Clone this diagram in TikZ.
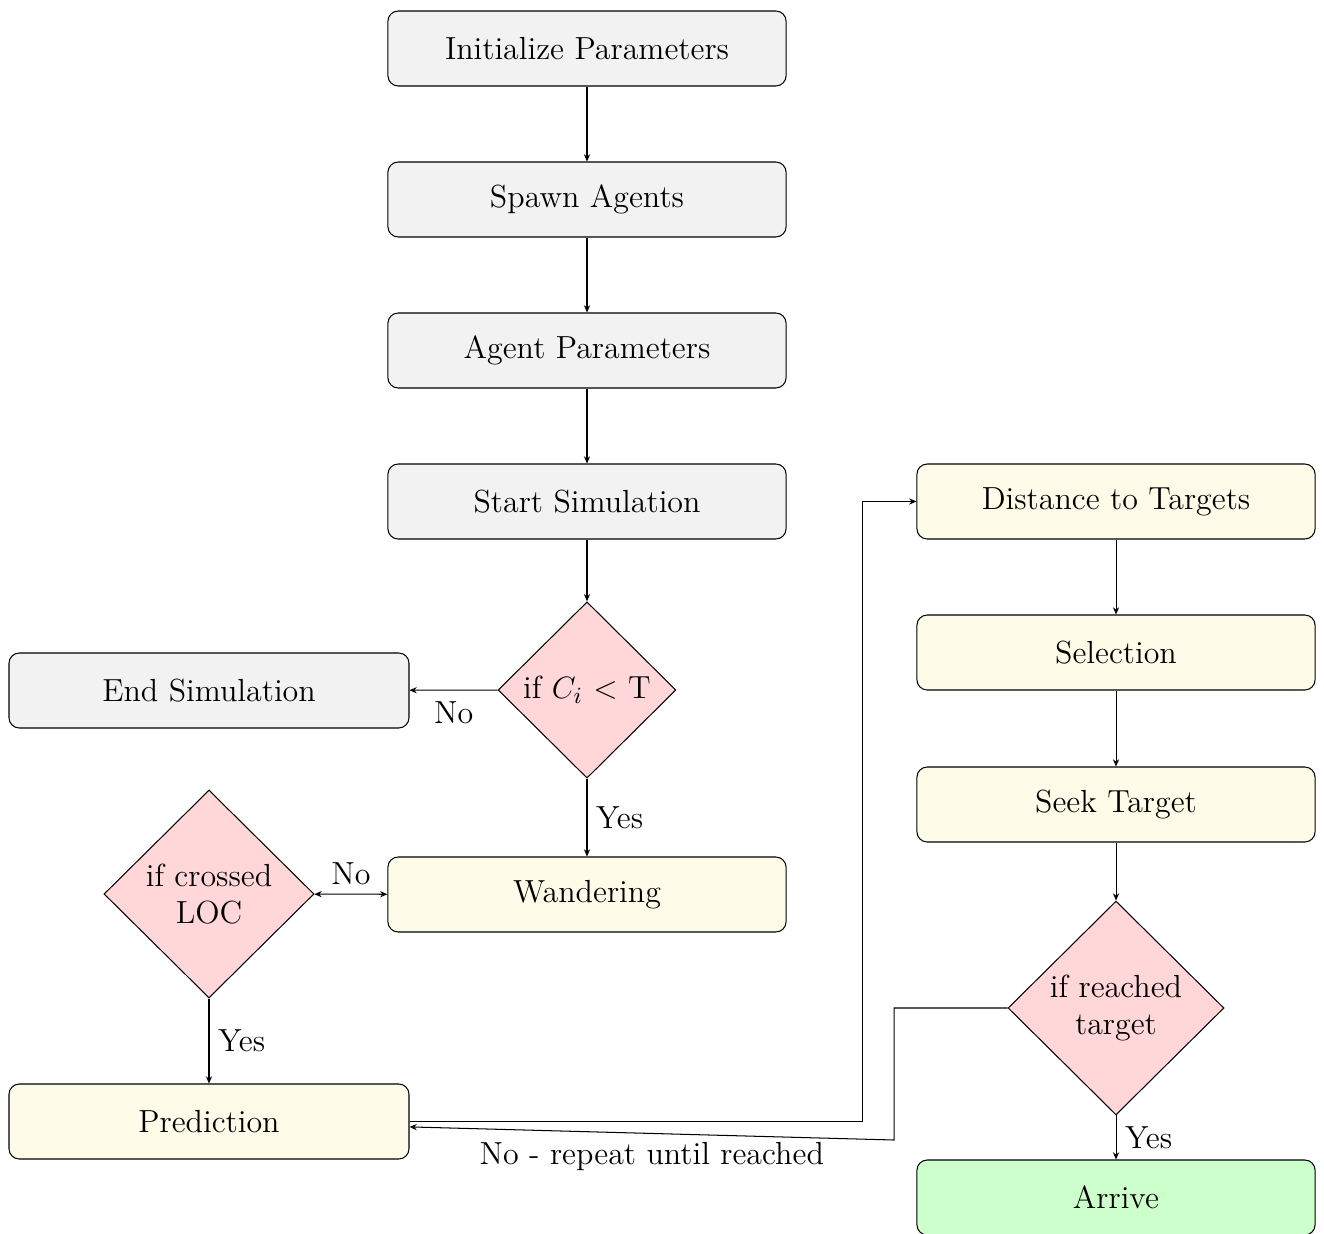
\documentclass[tikz,border=0pt]{standalone}
\usetikzlibrary{shapes.geometric,arrows.meta}
\definecolor{boxgray}{HTML}{F2F2F2}
\definecolor{boxyellow}{HTML}{FEFCE9}
\definecolor{boxpink}{HTML}{FFD7D9}
\definecolor{boxgreen}{HTML}{CCFFCC}
\begin{document}
\begin{tikzpicture}[x=0.388pt,y=-0.388pt,
  every node/.style={font=\fontsize{12.4}{14.6}\selectfont},
  procbox/.style={draw,rectangle,rounded corners=4pt,minimum width=154.5pt,minimum height=29.1pt,align=center},
  graybox/.style={procbox,fill=boxgray},
  yellowbox/.style={procbox,fill=boxyellow},
  greenbox/.style={procbox,fill=boxgreen},
  decision/.style={draw,diamond,fill=boxpink,inner sep=0pt,align=center},
  conn/.style={-{Stealth[length=2.8pt,width=2.4pt]}},
  biconn/.style={{Stealth[length=2.8pt,width=2.4pt]}-{Stealth[length=2.8pt,width=2.4pt]}}]
\useasboundingbox (0,0) rectangle (1324,1234);
\node[graybox] (init) at (587,48.5) {Initialize Parameters};
\node[graybox] (spawn) at (587,199.5) {Spawn Agents};
\node[graybox] (agent) at (587,350.5) {Agent Parameters};
\node[graybox] (start) at (587,501.5) {Start Simulation};
\node[decision,minimum width=69pt,minimum height=68.4pt] (d1) at (587,690) {if $C_i$ < T};
\node[graybox,minimum width=155.2pt] (end) at (209,690.5) {End Simulation};
\node[yellowbox] (wander) at (587,894.5) {Wandering};
\node[decision,minimum width=81.5pt,minimum height=80.7pt] (d2) at (209,894) {if crossed\\LOC};
\node[yellowbox,minimum width=155.2pt] (pred) at (209,1121.5) {Prediction};
\node[yellowbox] (dist) at (1116,501.5) {Distance to Targets};
\node[yellowbox] (sel) at (1116,652.5) {Selection};
\node[yellowbox] (seek) at (1116,804.5) {Seek Target};
\node[decision,minimum width=83.8pt,minimum height=83pt] (d3) at (1116,1008) {if reached\\target};
\node[greenbox] (arrive) at (1116,1197.5) {Arrive};
\coordinate (p1) at (862,1121.5);
\coordinate (r1) at (894,1008);
\coordinate (r2) at (894,1140);
\draw[conn] (init) -- (spawn);
\draw[conn] (spawn) -- (agent);
\draw[conn] (agent) -- (start);
\draw[conn] (start) -- (d1);
\draw[conn] (d1) -- node[below,yshift=-1pt] {No} (end);
\draw[conn] (d1) -- node[right] {Yes} (wander);
\draw[biconn] (d2) -- node[above] {No} (wander);
\draw[conn] (d2) -- node[right] {Yes} (pred);
\draw[conn] (pred.east) -- (p1) |- (dist.west);
\draw[conn] (dist) -- (sel);
\draw[conn] (sel) -- (seek);
\draw[conn] (seek) -- (d3);
\draw[conn] (d3) -- node[right] {Yes} (arrive);
\draw[conn] (d3.west) -- (r1) -- (r2) -- node[below,pos=0.5] {No - repeat until reached} (pred);
\end{tikzpicture}
\end{document}
